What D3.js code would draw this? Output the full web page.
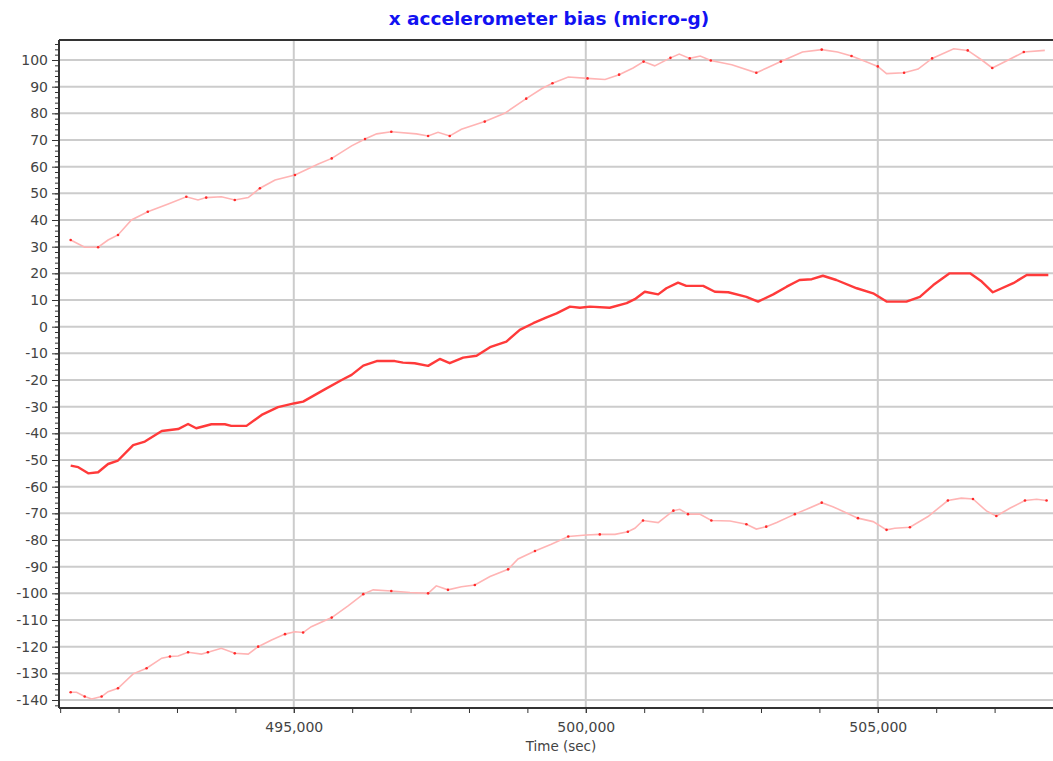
<!DOCTYPE html>
<html>
<head>
<meta charset="utf-8">
<script src="https://cdn.jsdelivr.net/npm/d3@7"></script>
<style>
  body { margin: 0; background: #fff; }
  text { font-family: "DejaVu Sans", sans-serif; }
</style>
</head>
<body>
<div id="chart"></div>
<script>
// bias estimate (middle) and the +/- envelope
const midTime = [491180, 491310, 491480, 491650, 491820, 491990, 492250, 492450, 492740, 493020,
  493190, 493330, 493590, 493820, 493930, 494190, 494450, 494730, 495020, 495160,
  495530, 495820, 495990, 496190, 496420, 496730, 496870, 497070, 497300, 497500,
  497670, 497900, 498130, 498360, 498640, 498870, 499100, 499330, 499500, 499730,
  499900, 500070, 500410, 500700, 500840, 501010, 501240, 501380, 501580, 501720,
  502010, 502210, 502440, 502750, 502950, 503210, 503440, 503660, 503870, 504060,
  504290, 504640, 504920, 505150, 505490, 505720, 505950, 506230, 506580, 506780,
  506970, 507320, 507550, 507920];
const midBias = [-52.1, -52.7, -55.0, -54.6, -51.5, -50.2, -44.4, -43.1, -39.1, -38.4,
  -36.5, -38.1, -36.6, -36.6, -37.2, -37.2, -33.1, -30.2, -28.7, -28.1,
  -23.5, -20.0, -18.1, -14.6, -12.9, -12.9, -13.5, -13.7, -14.7, -12.1,
  -13.7, -11.6, -10.9, -7.7, -5.6, -1.2, 1.3, 3.5, 5.0, 7.5,
  7.1, 7.5, 7.1, 8.8, 10.3, 13.1, 12.1, 14.4, 16.5, 15.3,
  15.3, 13.1, 12.9, 11.2, 9.4, 12.1, 15.0, 17.5, 17.8, 19.1,
  17.5, 14.4, 12.5, 9.4, 9.4, 11.2, 15.6, 20.0, 20.0, 16.9,
  12.9, 16.3, 19.4, 19.4];

const upperTime = [491180, 491420, 491650, 491820, 491990, 492220, 492500, 492850, 493160, 493360,
  493500, 493760, 493990, 494220, 494420, 494680, 495020, 495420, 495650, 495990,
  496220, 496420, 496670, 497100, 497300, 497470, 497670, 497870, 498270, 498610,
  498980, 499250, 499430, 499700, 500030, 500330, 500570, 500810, 500990, 501180,
  501450, 501600, 501780, 501960, 502140, 502500, 502920, 503100, 503340, 503710,
  504040, 504310, 504550, 504790, 505000, 505150, 505450, 505690, 505930, 506300,
  506540, 506780, 506960, 507200, 507500, 507860];
const upperBias = [32.5, 29.8, 29.8, 32.5, 34.4, 40.0, 43.1, 46.0, 48.7, 47.5,
  48.4, 48.7, 47.5, 48.4, 51.9, 55.0, 56.9, 61.0, 63.1, 67.8,
  70.4, 72.3, 73.1, 72.3, 71.5, 72.9, 71.5, 74.0, 76.9, 80.0,
  85.5, 89.3, 91.3, 93.6, 93.1, 92.7, 94.5, 97.0, 99.4, 97.8,
  100.8, 102.2, 100.6, 101.5, 99.8, 98.2, 95.2, 97.0, 99.4, 103.0,
  103.9, 103.0, 101.5, 99.4, 97.6, 94.9, 95.2, 96.6, 100.6, 104.2,
  103.6, 100.0, 97.0, 99.6, 103.0, 103.6];

const lowerTime = [491180, 491280, 491420, 491540, 491710, 491820, 491990, 492250, 492480, 492740,
  492880, 493020, 493190, 493420, 493530, 493760, 493990, 494220, 494390, 494620,
  494850, 495020, 495160, 495300, 495650, 495930, 496190, 496360, 496670, 496990,
  497300, 497440, 497640, 497870, 498100, 498360, 498670, 498840, 499130, 499410,
  499700, 500010, 500240, 500500, 500720, 500840, 500980, 501240, 501500, 501610,
  501750, 501950, 502150, 502470, 502750, 502920, 503090, 503270, 503580, 503780,
  504040, 504230, 504660, 504920, 505150, 505290, 505550, 505860, 506200, 506430,
  506630, 506860, 507030, 507260, 507520, 507720, 507890];
const lowerBias = [-137.1, -137.1, -138.7, -139.6, -138.7, -136.9, -135.6, -130.2, -128.1, -124.3,
  -123.7, -123.5, -122.1, -122.8, -122.1, -120.6, -122.5, -122.8, -120.0, -117.5,
  -115.3, -114.4, -114.7, -112.5, -109.1, -104.7, -100.3, -98.7, -99.1, -99.7,
  -100.0, -97.2, -98.7, -97.5, -96.9, -93.7, -91.0, -87.1, -84.1, -81.6,
  -78.7, -78.1, -77.9, -77.9, -76.9, -75.6, -72.7, -73.5, -69.0, -68.5,
  -70.3, -70.3, -72.7, -72.9, -74.1, -75.9, -75.0, -73.4, -70.3, -68.5,
  -66.0, -67.5, -71.8, -73.1, -76.2, -75.6, -75.2, -71.2, -65.2, -64.3,
  -64.6, -69.1, -71.0, -68.1, -65.2, -64.7, -65.2];

const yTicks = d3.range(-140, 101, 10);
const xTicks = [495000, 500000, 505000];

const width = 1053, height = 761;
const margin = { top: 40, right: 0, bottom: 53, left: 59 };

const svg = d3.select("#chart").append("svg")
  .attr("width", width)
  .attr("height", height);

const x = d3.scaleLinear()
  .domain([490980, 508000])
  .range([margin.left, width - margin.right]);

const y = d3.scaleLinear()
  .domain([-143, 107.5])
  .range([height - margin.bottom, margin.top]);

// title
svg.append("text")
  .attr("x", 549)
  .attr("y", 25)
  .attr("text-anchor", "middle")
  .attr("fill", "#1212f2")
  .attr("font-weight", "bold")
  .attr("font-size", 18.5)
  .text("x accelerometer bias (micro-g)");

// grid
const grid = svg.append("g").attr("stroke", "#cccccc").attr("stroke-width", 2);
grid.selectAll("line.h").data(yTicks).enter().append("line")
  .attr("x1", margin.left).attr("x2", width - margin.right)
  .attr("y1", d => y(d)).attr("y2", d => y(d));
grid.selectAll("line.v").data(xTicks).enter().append("line")
  .attr("y1", margin.top).attr("y2", height - margin.bottom)
  .attr("x1", d => x(d)).attr("x2", d => x(d));

// clip for the data
svg.append("clipPath").attr("id", "plot")
  .append("rect")
  .attr("x", margin.left).attr("y", margin.top)
  .attr("width", width - margin.left - margin.right)
  .attr("height", height - margin.top - margin.bottom);

const line = d3.line().x(d => x(d[0])).y(d => y(d[1]));
const zip = (ts, vs) => ts.map((t, i) => [t, vs[i]]);

const plot = svg.append("g").attr("clip-path", "url(#plot)");

[zip(upperTime, upperBias), zip(lowerTime, lowerBias)].forEach(pts => {
  plot.append("path")
    .datum(pts)
    .attr("fill", "none")
    .attr("stroke", "#ffb4b4")
    .attr("stroke-width", 1.6)
    .attr("d", line);
  plot.selectAll(null)
    .data(pts.filter((d, i) => i % 2 === 0))
    .enter().append("circle")
    .attr("cx", d => x(d[0]))
    .attr("cy", d => y(d[1]))
    .attr("r", 1.3)
    .attr("fill", "#ff2a2a");
});

plot.append("path")
  .datum(zip(midTime, midBias))
  .attr("fill", "none")
  .attr("stroke", "#ff3a3a")
  .attr("stroke-width", 2.4)
  .attr("stroke-linejoin", "round")
  .attr("d", line);

// axes
const axisColor = "#333";
const yAxis = svg.append("g")
  .attr("transform", `translate(${margin.left},0)`)
  .call(d3.axisLeft(y).tickValues(d3.range(-142, 107, 2)).tickSize(4).tickFormat(""));
yAxis.select(".domain").remove();
yAxis.selectAll(".tick line").attr("stroke", axisColor);

const yMajor = svg.append("g")
  .attr("transform", `translate(${margin.left},0)`)
  .call(d3.axisLeft(y).tickValues(yTicks).tickSize(7).tickPadding(4).tickFormat(d => String(d)));
yMajor.select(".domain").remove();
yMajor.selectAll(".tick line").attr("stroke", axisColor);
yMajor.selectAll(".tick text")
  .attr("fill", "#444")
  .attr("font-size", 14)
  .attr("font-family", "DejaVu Sans, sans-serif");

const xAxis = svg.append("g")
  .attr("transform", `translate(0,${height - margin.bottom})`)
  .call(d3.axisBottom(x).tickValues(d3.range(491000, 508001, 1000)).tickSize(5).tickFormat(""));
xAxis.select(".domain").remove();
xAxis.selectAll(".tick line").attr("stroke", axisColor);

const xMajor = svg.append("g")
  .attr("transform", `translate(0,${height - margin.bottom})`)
  .call(d3.axisBottom(x).tickValues(xTicks).tickSize(5).tickPadding(9).tickFormat(d3.format(",")));
xMajor.select(".domain").remove();
xMajor.selectAll(".tick line").attr("stroke", axisColor);
xMajor.selectAll(".tick text")
  .attr("fill", "#444")
  .attr("font-size", 14)
  .attr("font-family", "DejaVu Sans, sans-serif");

// frame: left, top, bottom
const frame = svg.append("g").attr("stroke", axisColor).attr("stroke-width", 2);
frame.append("line")
  .attr("x1", margin.left).attr("x2", margin.left)
  .attr("y1", margin.top).attr("y2", height - margin.bottom);
frame.append("line")
  .attr("x1", margin.left).attr("x2", width)
  .attr("y1", margin.top).attr("y2", margin.top);
frame.append("line")
  .attr("x1", margin.left).attr("x2", width)
  .attr("y1", height - margin.bottom).attr("y2", height - margin.bottom);

svg.append("text")
  .attr("x", 561)
  .attr("y", 751)
  .attr("text-anchor", "middle")
  .attr("fill", "#444")
  .attr("font-size", 13.5)
  .text("Time (sec)");
</script>
</body>
</html>
